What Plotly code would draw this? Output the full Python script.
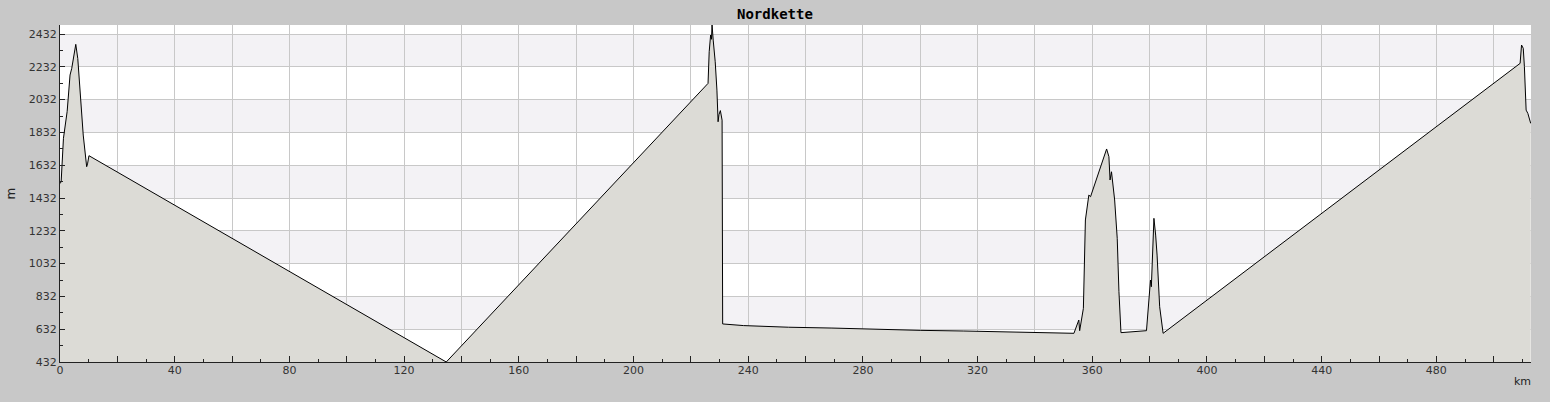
import plotly.graph_objects as go

# ---- data ----
dist_km = [0, 0.4, 1.2, 2.5, 3.5, 4.1, 5.5, 5.8, 6.2, 8.1, 8.7, 9.3, 9.6, 9.9, 10.1,
           134.7,
           226.0, 226.4, 226.9, 227.2, 227.4, 227.8, 228.5, 229.1, 229.5, 229.8, 230.0, 230.3, 230.9,
           231.1, 238.4, 254.1, 269.2, 284.9, 300.0, 315.2, 330.9, 346.0, 353.6,
           355.3, 355.6, 356.9, 357.3, 357.6, 358.8, 359.4, 365.0, 365.8, 366.2, 366.7, 367.8,
           368.7, 369.3, 370.0, 378.9, 379.3, 380.3, 380.6, 381.5, 382.1, 382.6, 383.5, 384.7,
           509.2, 509.7, 510.3, 510.7, 511.3, 511.9, 512.9]
elev_m = [1520, 1531, 1796, 1960, 2182, 2223, 2369, 2330, 2283, 1816, 1714, 1623, 1640, 1684, 1690,
          432,
          2131, 2324, 2426, 2400, 2487, 2395, 2263, 2090, 1897, 1940, 1958, 1965, 1907,
          664, 654, 644, 639, 631, 625, 621, 615, 607, 607,
          688, 623, 759, 1013, 1298, 1450, 1440, 1731, 1684, 1542, 1592, 1420,
          1186, 861, 611, 623, 729, 932, 891, 1308, 1206, 1084, 769, 607,
          2253, 2365, 2345, 2233, 1968, 1948, 1887]

title_text = "Nordkette"
x_label = "km"
y_label = "m"
x_tick_vals = list(range(0, 513, 40))
y_tick_vals = list(range(432, 2433, 200))
shaded_bands = [(632, 832), (1032, 1232), (1432, 1632), (1832, 2032), (2232, 2432)]

X_MAX = 513
Y_MIN, Y_MAX = 432, 2487

fig = go.Figure()
fig.add_trace(go.Scatter(
    x=dist_km, y=elev_m, mode="lines",
    line=dict(color="black", width=1),
    fill="tozeroy", fillcolor="#dcdbd6",
    hoverinfo="skip", showlegend=False,
))

shapes = []
for lo, hi in shaded_bands:
    shapes.append(dict(type="rect", xref="paper", yref="y", x0=0, x1=1, y0=lo, y1=hi,
                       fillcolor="#f3f2f5", line=dict(width=0), layer="below"))

fig.update_layout(
    width=1550, height=402,
    margin=dict(l=60, r=19, t=25, b=40),
    paper_bgcolor="#c8c8c8", plot_bgcolor="white",
    shapes=shapes,
    showlegend=False,
    font=dict(family="DejaVu Sans", size=11, color="#333333"),
    annotations=[
        dict(text=title_text, xref="paper", yref="paper", x=0.486, y=1, yshift=11,
             xanchor="center", yanchor="middle", showarrow=False,
             font=dict(family="DejaVu Sans Mono", size=14, color="black", weight="bold")),
        dict(text=y_label, xref="paper", yref="paper", x=0, xshift=-50, y=0.5, textangle=-90,
             xanchor="center", yanchor="middle", showarrow=False,
             font=dict(family="DejaVu Sans", size=12, color="#222222")),
        dict(text=x_label, xref="paper", yref="paper", x=1, xshift=-9, y=0, yshift=-19,
             xanchor="center", yanchor="middle", showarrow=False,
             font=dict(family="DejaVu Sans", size=11, color="#222222")),
    ],
)

fig.update_xaxes(
    range=[0, X_MAX], tickmode="linear", tick0=0, dtick=20,
    showgrid=True, gridcolor="#c8c8c8", gridwidth=1,
    showline=True, linecolor="#222222", linewidth=1,
    ticks="inside", ticklen=6, tickcolor="#222222",
    showticklabels=False, zeroline=False,
    minor=dict(dtick=10, tick0=0, ticks="inside", ticklen=3, tickcolor="#222222", showgrid=False),
)
# second overlaid x axis only for labels every 40 km
fig.update_layout(xaxis2=dict(
    overlaying="x", side="bottom", range=[0, X_MAX],
    tickmode="array", tickvals=x_tick_vals, ticktext=[str(v) for v in x_tick_vals],
    showgrid=False, showline=False, ticks="", zeroline=False,
    tickfont=dict(family="DejaVu Sans", size=11, color="#333333"),
))
fig.add_trace(go.Scatter(x=[0], y=[Y_MIN], xaxis="x2", yaxis="y", mode="markers",
                         marker=dict(opacity=0), hoverinfo="skip", showlegend=False))

fig.update_yaxes(
    range=[Y_MIN, Y_MAX], tickmode="array", tickvals=y_tick_vals,
    ticktext=[str(v) for v in y_tick_vals],
    showgrid=True, gridcolor="#c8c8c8", gridwidth=1,
    showline=True, linecolor="#222222", linewidth=1,
    ticks="inside", ticklen=5, tickcolor="#222222", zeroline=False,
    tickfont=dict(family="DejaVu Sans", size=11, color="#333333"),
    minor=dict(tickmode="array", tickvals=[v + 100 for v in y_tick_vals[:-1]],
               ticks="inside", ticklen=3, tickcolor="#222222", showgrid=False),
)

fig.write_html(
    "out.html",
    config={"displayModeBar": False},
    post_script="document.body.style.margin='0';document.body.style.background='#c8c8c8';",
)
